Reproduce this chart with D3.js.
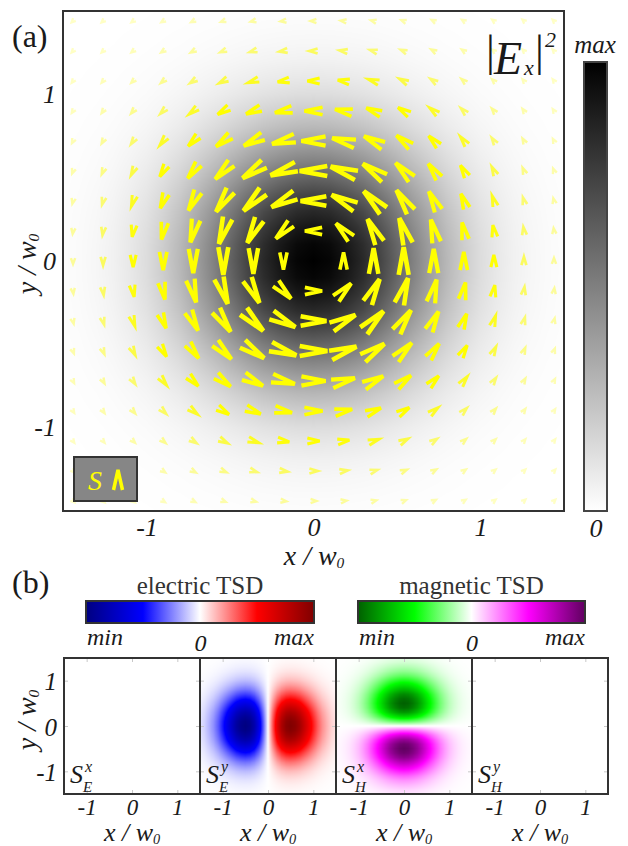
<!DOCTYPE html>
<html>
<head>
<meta charset="utf-8">
<script src="https://cdn.jsdelivr.net/npm/d3@7"></script>
<style>
  body { margin: 0; background: #fff; }
  svg { display: block; }
  svg text { font-family: "Liberation Serif", "Tinos", "Times New Roman", "DejaVu Serif", serif; fill: #1a1a1a; }
</style>
</head>
<body>
<div id="chart"></div>
<script>
// profiles, r in units of w0
const profileR   = [0, 0.1, 0.2, 0.3, 0.4, 0.5, 0.6, 0.7, 0.8, 0.9, 1.0, 1.1, 1.2, 1.3, 1.4, 1.5];
const intensity  = [1, 0.98, 0.92, 0.84, 0.73, 0.61, 0.49, 0.38, 0.28, 0.2, 0.135, 0.09, 0.056, 0.034, 0.02, 0.011];
const tsdProfile = [0, 0.32, 0.61, 0.83, 0.96, 1, 0.96, 0.87, 0.73, 0.59, 0.45, 0.32, 0.22, 0.15, 0.09, 0.055];

// positions of the spin glyphs (same along x and y)
const arrowGrid = [-1.44, -1.26, -1.08, -0.9, -0.72, -0.54, -0.36, -0.18, 0,
                   0.18, 0.36, 0.54, 0.72, 0.9, 1.08, 1.26, 1.44];

const axisTicks = [-1, 0, 1];
const tsdStops = [-1, -0.5, 0, 0.5, 1];
const electricColors = ["#000080", "#0000ff", "#ffffff", "#ff0000", "#800000"];
const magneticColors = ["#006000", "#00ff00", "#ffffff", "#ff00ff", "#600060"];
const tsdBarLabels = ["min", "0", "max"];
const panelNames = [["E", "x"], ["E", "y"], ["H", "x"], ["H", "y"]];

const width = 628, height = 846;
const serif = '"Liberation Serif", "Tinos", "Times New Roman", "DejaVu Serif", serif';

const svg = d3.select("#chart").append("svg")
    .attr("width", width)
    .attr("height", height)
    .attr("font-family", serif);

const gauss = d3.scaleLinear().domain(profileR).range(intensity).clamp(true);
const tsd = d3.scaleLinear().domain(profileR).range(tsdProfile).clamp(true);

// field components built from the read profiles
const field = (x, y) => gauss(Math.abs(x)) * gauss(Math.abs(y));
const sEy = (x, y) => Math.sign(x) * tsd(Math.abs(x)) * gauss(Math.abs(y));
const sHx = (x, y) => -Math.sign(y) * tsd(Math.abs(y)) * gauss(Math.abs(x));
const zero = () => 0;

function heatmap(g, x, y, value, color) {
  const [x0, x1] = x.range();
  const [y1, y0] = y.range();
  const w = Math.round(x1 - x0), h = Math.round(y1 - y0);
  const canvas = document.createElement("canvas");
  canvas.width = w; canvas.height = h;
  const ctx = canvas.getContext("2d");
  const img = ctx.createImageData(w, h);
  for (let j = 0; j < h; j++) {
    const yv = y.invert(y0 + j + 0.5);
    for (let i = 0; i < w; i++) {
      const c = d3.rgb(color(value(x.invert(x0 + i + 0.5), yv)));
      const k = (j * w + i) * 4;
      img.data[k] = c.r; img.data[k + 1] = c.g; img.data[k + 2] = c.b; img.data[k + 3] = 255;
    }
  }
  ctx.putImageData(img, 0, 0);
  g.append("image")
    .attr("x", x0).attr("y", y0)
    .attr("width", w).attr("height", h)
    .attr("preserveAspectRatio", "none")
    .attr("href", canvas.toDataURL());
}

// chevron (two thick legs), tip pointing up
const chevron = (L, w) => `M${-w},${L / 2}L0,${-L / 2}L${w},${L / 2}`;

function txt(g, x, y, size, str, italic) {
  return g.append("text").attr("x", x).attr("y", y)
    .attr("font-family", serif)
    .style("font-size", size + "px")
    .style("font-style", italic ? "italic" : "normal")
    .text(str);
}

function subTitle(g, x, y, rotate, size) {
  const t = g.append("text")
      .attr("transform", `translate(${x},${y})` + (rotate ? " rotate(-90)" : ""))
      .attr("text-anchor", "middle")
      .attr("font-family", serif)
      .style("font-size", size + "px")
      .style("font-style", "italic");
  t.append("tspan").text(rotate ? "y / w" : "x / w");
  t.append("tspan").attr("dy", 3).style("font-size", (size * 0.55) + "px").text("0");
}

function styleTicks(sel, size) {
  sel.select(".domain").remove();
  sel.attr("font-family", serif);
  sel.selectAll("text").style("font-size", size + "px").style("font-style", "italic");
}

// ---------------- (a) ----------------
const xa = d3.scaleLinear().domain([-1.5, 1.5]).range([63, 564]);
const ya = d3.scaleLinear().domain([-1.5, 1.5]).range([511, 11]);
const gray = d3.scaleLinear().domain([0, 1]).range(["#ffffff", "#000000"]).clamp(true);

const ga = svg.append("g");
heatmap(ga, xa, ya, field, gray);

const lenScale = d3.scaleLinear().domain([0, 1]).range([4, 28]).clamp(true);
const alphaScale = d3.scaleLinear().domain([0, 0.35]).range([0.22, 1]).clamp(true);

const glyphs = [];
arrowGrid.forEach(gy => arrowGrid.forEach(gx => {
  const sx = sHx(gx, gy), sy = sEy(gx, gy);
  const m = Math.hypot(sx, sy);
  if (m > 0) glyphs.push({ gx, gy, sx, sy, m, L: lenScale(m) });
}));

ga.selectAll("path.spin")
  .data(glyphs)
  .enter().append("path")
    .attr("class", "spin")
    .attr("d", d => chevron(d.L, 0.13 * d.L + 1.4))
    .attr("transform", d => `translate(${xa(d.gx)},${ya(d.gy)}) rotate(${Math.atan2(d.sx, d.sy) * 180 / Math.PI})`)
    .style("fill", "none")
    .style("stroke", "#ffff00")
    .style("stroke-width", d => 1.9 + 0.1 * d.L)
    .style("stroke-linejoin", "miter")
    .style("stroke-opacity", d => alphaScale(d.m));

ga.append("rect")
  .attr("x", 63).attr("y", 11).attr("width", 501).attr("height", 500)
  .style("fill", "none").style("stroke", "#333").style("stroke-width", 2);

const axA = ga.append("g").attr("transform", "translate(0,511)")
  .call(d3.axisBottom(xa).tickValues(axisTicks).tickSize(0).tickFormat(d => String(d)));
styleTicks(axA, 26);
axA.selectAll("text").attr("y", 25).attr("dy", 0);

const ayA = ga.append("g").attr("transform", "translate(63,0)")
  .call(d3.axisLeft(ya).tickValues(axisTicks).tickSize(0).tickPadding(7).tickFormat(d => String(d)));
styleTicks(ayA, 26);
ayA.selectAll("text").attr("dy", "0.32em");

subTitle(ga, 314, 565, false, 28);
subTitle(ga, 36, 264, true, 28);

txt(ga, 12, 47, 32, "(a)", false);

// |E_x|^2 label
txt(ga, 486, 66, 44, "|", false);
txt(ga, 494, 74, 46, "E", true);
txt(ga, 524, 75, 22, "x", true);
txt(ga, 535, 66, 44, "|", false);
txt(ga, 545, 47, 22, "2", true);

// legend
ga.append("rect").attr("x", 74).attr("y", 457).attr("width", 63).attr("height", 44)
  .style("fill", "#868686").style("stroke", "#333").style("stroke-width", 2);
txt(ga, 88, 490, 28, "S", true).style("fill", "#ffff00");
ga.append("path").attr("d", chevron(20, 4.5))
  .attr("transform", "translate(118,480)")
  .style("fill", "none").style("stroke", "#ffff00").style("stroke-width", 3.5);

// gray colorbar
const defs = svg.append("defs");
const grayGrad = defs.append("linearGradient").attr("id", "grayGrad")
  .attr("x1", 0).attr("y1", 1).attr("x2", 0).attr("y2", 0);
grayGrad.selectAll("stop").data([0, 1]).enter().append("stop")
  .attr("offset", d => d).attr("stop-color", d => gray(d));
ga.append("rect").attr("x", 584).attr("y", 62).attr("width", 23).attr("height", 449)
  .style("fill", "url(#grayGrad)").style("stroke", "#444").style("stroke-width", 2);
txt(ga, 595, 53, 25, "max", true).attr("text-anchor", "middle");
txt(ga, 596, 537, 26, "0", true).attr("text-anchor", "middle");

// ---------------- (b) ----------------
const gb = svg.append("g");
txt(gb, 12, 593, 32, "(b)", false);

const electric = d3.scaleLinear().domain(tsdStops).range(electricColors).clamp(true);
const magnetic = d3.scaleLinear().domain(tsdStops).range(magneticColors).clamp(true);

function tsdBar(id, title, colors, x0, x1) {
  const grad = defs.append("linearGradient").attr("id", id);
  grad.selectAll("stop").data(tsdStops).enter().append("stop")
    .attr("offset", d => (d + 1) / 2).attr("stop-color", (d, i) => colors[i]);
  gb.append("rect").attr("x", x0).attr("y", 601).attr("width", x1 - x0).attr("height", 22)
    .style("fill", `url(#${id})`).style("stroke", "#333").style("stroke-width", 2);
  txt(gb, (x0 + x1) / 2, 594, 25, title, false).attr("text-anchor", "middle").style("fill", "#333");
  const pos = d3.scaleLinear().domain([0, 2]).range([x0 + 1, x1]);
  tsdBarLabels.forEach((d, i) => {
    txt(gb, pos(i), i === 1 ? 651 : 645, 24, d, true)
      .attr("text-anchor", ["start", "middle", "end"][i]);
  });
}
tsdBar("elecGrad", "electric TSD", electricColors, 86, 314);
tsdBar("magGrad", "magnetic TSD", magneticColors, 358, 585);

const panelLeft = [64, 200, 336, 472];
const panelFns = [zero, sEy, sHx, zero];
const panelColors = [electric, electric, magnetic, magnetic];
const yb = d3.scaleLinear().domain([-1.5, 1.5]).range([794, 658]);

const innerTicks = sel => {
  sel.select(".domain").remove();
  sel.selectAll("line").style("stroke", "#c8c8c8").style("stroke-width", 1);
};

panelLeft.forEach((left, p) => {
  const xb = d3.scaleLinear().domain([-1.5, 1.5]).range([left, left + 136]);
  const g = gb.append("g");
  heatmap(g, xb, yb, panelFns[p], panelColors[p]);

  g.append("g").attr("transform", "translate(0,658)")
    .call(d3.axisTop(xb).tickValues(axisTicks).tickSize(-4).tickFormat("")).call(innerTicks);
  g.append("g").attr("transform", "translate(0,794)")
    .call(d3.axisBottom(xb).tickValues(axisTicks).tickSize(-4).tickFormat("")).call(innerTicks);
  g.append("g").attr("transform", `translate(${left},0)`)
    .call(d3.axisLeft(yb).tickValues(axisTicks).tickSize(-4).tickFormat("")).call(innerTicks);
  g.append("g").attr("transform", `translate(${left + 136},0)`)
    .call(d3.axisRight(yb).tickValues(axisTicks).tickSize(-4).tickFormat("")).call(innerTicks);

  g.append("rect").attr("x", left).attr("y", 658).attr("width", 136).attr("height", 136)
    .style("fill", "none").style("stroke", "#333").style("stroke-width", 2);

  const ax = g.append("g").attr("transform", "translate(0,794)")
    .call(d3.axisBottom(xb).tickValues(axisTicks).tickSize(0).tickFormat(d => String(d)));
  styleTicks(ax, 23);
  ax.selectAll("text").attr("y", 21).attr("dy", 0);

  subTitle(g, left + 68, 841, false, 26);

  const [fieldName, comp] = panelNames[p];
  txt(g, left + 6, 783, 26, "S", true);
  txt(g, left + 19, 792, 15, fieldName, true);
  txt(g, left + 21, 772, 16, comp, true);
});

const ayB = gb.append("g").attr("transform", "translate(64,0)")
  .call(d3.axisLeft(yb).tickValues(axisTicks).tickSize(0).tickPadding(7).tickFormat(d => String(d)));
styleTicks(ayB, 25);
ayB.selectAll("text").attr("dy", "0.36em");

subTitle(gb, 36, 720, true, 28);
</script>
</body>
</html>
